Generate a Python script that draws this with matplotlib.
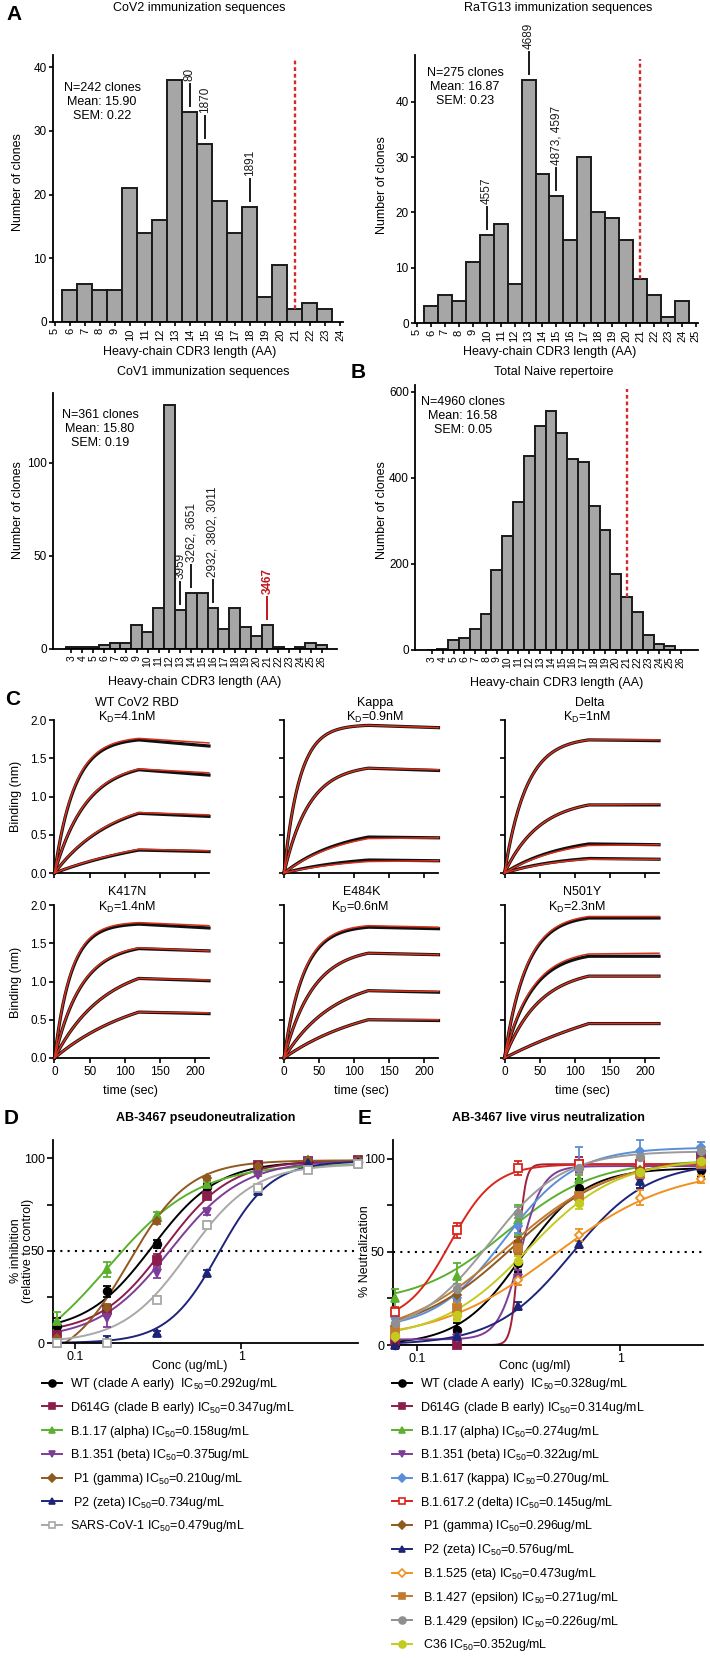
import numpy as np
import matplotlib
matplotlib.use('Agg')
import matplotlib.pyplot as plt
from matplotlib.lines import Line2D
from matplotlib.ticker import NullLocator, FixedLocator

plt.rcParams['font.family'] = ['Liberation Sans', 'DejaVu Sans']
plt.rcParams['font.size'] = 8
plt.rcParams['mathtext.fontset'] = 'custom'
plt.rcParams['mathtext.rm'] = 'Liberation Sans'
plt.rcParams['mathtext.it'] = 'Liberation Sans:italic'
plt.rcParams['mathtext.bf'] = 'Liberation Sans:bold'
plt.rcParams['axes.linewidth'] = 1.3
plt.rcParams['xtick.major.width'] = 1.2
plt.rcParams['ytick.major.width'] = 1.2
plt.rcParams['xtick.minor.width'] = 1.2
plt.rcParams['ytick.minor.width'] = 1.2

W, H = 710, 1659
FS = 9

# ---------------- histogram data (A, B) ----------------
cov2_len = list(range(6, 24))
cov2_cnt = [5, 6, 5, 5, 21, 14, 16, 38, 33, 28, 19, 14, 18, 4, 9, 2, 3, 2]
ratg_len = list(range(6, 25))
ratg_cnt = [3, 5, 4, 11, 16, 18, 7, 44, 27, 23, 15, 30, 20, 19, 15, 8, 5, 1, 4]
cov1_len = list(range(3, 27))
cov1_cnt = [1, 1, 1, 2, 3, 3, 13, 9, 22, 131, 21, 30, 30, 22, 11, 22, 12, 7, 13, 1, 0, 1, 3, 2]
naive_len = list(range(3, 26))
naive_cnt = [1, 2, 23, 29, 48, 83, 187, 266, 345, 452, 520, 555, 505, 445, 437, 335, 278,
             176, 124, 89, 36, 15, 9]

cov2_notes = [(14, '80'), (15, '1870'), (18, '1891')]
ratg_notes = [(10, '4557'), (13, '4689'), (15, '4873, 4597')]
cov1_notes = [(13, '3959'), (14, '3262, 3651'), (16, '2932, 3802, 3011')]
cov1_hit = (21, '3467')

# ---------------- BLI data (C) ----------------
c_titles = ['WT CoV2 RBD', 'Kappa', 'Delta', 'K417N', 'E484K', 'N501Y']
c_kd = ['4.1nM', '0.9nM', '1nM', '1.4nM', '0.6nM', '2.3nM']
c_kobs = [[0.035, 0.022, 0.012, 0.006], [0.045, 0.028, 0.012, 0.010],
          [0.032, 0.020, 0.012, 0.012], [0.042, 0.026, 0.014, 0.008],
          [0.036, 0.024, 0.014, 0.008], [0.032, 0.026, 0.020, 0.004]]
c_r120_black = [[1.74, 1.35, 0.78, 0.30], [1.93, 1.37, 0.47, 0.17], [1.74, 0.89, 0.38, 0.19],
                [1.75, 1.43, 1.04, 0.60], [1.71, 1.37, 0.88, 0.50], [1.83, 1.33, 1.07, 0.45]]
c_r220_black = [[1.66, 1.28, 0.74, 0.28], [1.90, 1.34, 0.46, 0.16], [1.73, 0.89, 0.37, 0.18],
                [1.70, 1.40, 1.01, 0.58], [1.69, 1.35, 0.86, 0.49], [1.83, 1.33, 1.07, 0.45]]
c_r120_red = [[1.76, 1.36, 0.79, 0.31], [1.93, 1.37, 0.45, 0.15], [1.74, 0.89, 0.36, 0.18],
              [1.77, 1.44, 1.04, 0.60], [1.73, 1.37, 0.88, 0.50], [1.85, 1.36, 1.07, 0.45]]
c_r220_red = [[1.70, 1.31, 0.76, 0.29], [1.90, 1.35, 0.46, 0.16], [1.74, 0.90, 0.37, 0.18],
              [1.73, 1.40, 1.02, 0.59], [1.71, 1.35, 0.87, 0.50], [1.85, 1.37, 1.07, 0.45]]

# ---------------- pseudoneutralization (D) ----------------
d_conc = [0.078125, 0.15625, 0.3125, 0.625, 1.25, 2.5, 5.0]
d_names = ['WT (clade A early) ', 'D614G (clade B early)', 'B.1.17 (alpha)', 'B.1.351 (beta)',
           ' P1 (gamma)', ' P2 (zeta)', 'SARS-CoV-1']
d_ic50 = [0.292, 0.347, 0.158, 0.375, 0.210, 0.734, 0.479]
d_vals = [[9.4, 28, 53.7, 84.6, 96.7, 98.2, 98.2],
          [4.5, 17.7, 45, 79.6, 96.5, 98.5, 99],
          [12, 40, 69.6, 86, 93.5, 96, 97],
          [0.4, 13.6, 38, 70.9, 91.3, 98.5, 98],
          [2.7, 19, 66, 89.5, 96, 99, 99],
          [0, 1.8, 5.4, 38, 82.3, 97.6, 98],
          [0, 0, 23.5, 64.2, 84, 94, 97]]
d_err = [[4, 3, 2, 1.5, 1, 0.5, 0.5], [2, 3, 3, 1.5, 1, 0.5, 0.5], [5, 4, 1.5, 1, 1, 0.5, 0.5],
         [2, 5, 3, 1.5, 1, 0.5, 0.5], [1.5, 2, 1.5, 1, 1, 0.5, 0.5], [0.5, 2, 1, 1.5, 1.5, 0.5, 0.5],
         [0.5, 0.5, 2, 2, 1.5, 1, 0.5]]
d_fit = [(6, 98.5, 2.2), (5, 99, 2.2), (-15, 97, 1.6), (2, 99, 2.0), (-12, 99, 2.4),
         (0, 98.5, 2.8), (0, 97, 2.2)]  # bottom, top, hill
d_colors = ['#000000', '#8b1c4b', '#5bb02e', '#7d3c98', '#8e5a1e', '#1e2478', '#a8a8a8']
d_markers = ['o', 's', '^', 'v', 'D', '^', 's']
d_open = [False, False, False, False, False, False, True]

# ---------------- live virus (E) ----------------
e_conc = [0.078125, 0.15625, 0.3125, 0.625, 1.25, 2.5]
e_names = ['WT (clade A early) ', 'D614G (clade B early)', 'B.1.17 (alpha)', 'B.1.351 (beta)',
           'B.1.617 (kappa)', 'B.1.617.2 (delta)', ' P1 (gamma)', ' P2 (zeta)', ' B.1.525 (eta)',
           ' B.1.427 (epsilon)', ' B.1.429 (epsilon)', ' C36']
e_ic50 = [0.328, 0.314, 0.274, 0.322, 0.270, 0.145, 0.296, 0.576, 0.473, 0.271, 0.226, 0.352]
e_vals = [[0, 8, 44, 84, 94, 94],
          [2, 0, 52, 97, 97, 101],
          [25, 37, 67, 89, 97, 99],
          [3, 4, 36, 96, 88, 99],
          [15, 25, 64, 97, 104, 106],
          [17.5, 61.6, 95, 97, 97, 97],
          [10, 27, 55, 80, 94, 99],
          [0, 5, 21, 54, 88, 96],
          [4, 17, 35, 59, 79, 89],
          [7, 20, 52, 80, 92, 97],
          [12, 30, 71, 95, 101, 104],
          [5, 16, 45, 76, 93, 99]]
e_err = [[1, 4, 5, 5, 5, 4], [1, 1, 4, 4, 3, 2], [5, 7, 8, 2, 4, 2], [1, 1, 4, 3, 4, 2],
         [3, 4, 4, 9, 6, 3], [3, 4, 4, 2, 2, 2], [2, 3, 3, 3, 3, 2], [1, 2, 2, 2, 4, 2],
         [2, 3, 3, 3, 4, 2], [2, 3, 3, 3, 3, 2], [2, 3, 3, 3, 3, 2], [2, 3, 3, 3, 3, 2]]
e_fit = [(0, 95, 2.8), (0, 97, 25), (22, 99, 2.0), (3, 96, 8), (8, 106, 2.5), (12, 97, 4),
         (5, 100, 1.8), (0, 98, 2.3), (2, 95, 1.5), (3, 100, 1.7), (5, 104, 2.4), (3, 100, 2.0)]
e_colors = ['#000000', '#8b1c4b', '#5bb02e', '#7d3c98', '#5a8fd8', '#d9261c', '#8e5a1e',
            '#1e2478', '#f0901e', '#c27a2e', '#8f8f8f', '#c3cc1e']
e_line_colors = ['#000000', '#a3203a', '#5bb02e', '#7d3c98', '#5a8fd8', '#d9261c', '#8e5a1e',
                 '#1e2478', '#f0901e', '#c27a2e', '#9a9a9a', '#c3cc1e']
e_markers = ['o', 's', '^', 'v', 'D', 's', 'D', '^', 'D', 's', 'o', 'o']
e_open = [False, False, False, False, False, True, False, False, True, False, False, False]


def rect(l, t, r, b):
    return [l / W, 1 - b / H, (r - l) / W, (b - t) / H]


def fx(x):
    return x / W


def fy(y):
    return 1 - y / H


fig = plt.figure(figsize=(W / 100, H / 100), dpi=100)


def hist_panel(box, lengths, counts, xlim, ylim, yticks, xticks, xfs, cutoff=None, notes=(), hit=None):
    l, t, r, b = box
    ax = fig.add_axes(rect(l, t, r, b))
    ax.bar(lengths, counts, width=1.0, color='#a6a6a6', edgecolor='#1a1a1a', linewidth=1.4, zorder=2)
    ax.set_xlim(*xlim)
    ax.set_ylim(*ylim)
    ax.set_xticks(xticks)
    ax.set_xticklabels([str(v) for v in xticks], rotation=90, fontsize=xfs)
    ax.set_yticks(yticks)
    ax.tick_params(axis='y', labelsize=8.5, pad=1.5, length=3)
    ax.tick_params(axis='x', pad=1.5, length=3)
    for s in ('top', 'right'):
        ax.spines[s].set_visible(False)
    upp = (ylim[1] - ylim[0]) / (b - t)
    if cutoff is not None:
        h = counts[lengths.index(cutoff)]
        ax.plot([cutoff, cutoff], [h, ylim[1] - 4 * upp], ls=(0, (1.6, 1.2)), color='#d42a2a',
                lw=1.7, zorder=3, clip_on=False)
    items = [(x, s, '#1a1a1a', 'normal') for x, s in notes]
    if hit is not None:
        items.append((hit[0], hit[1], '#c0161b', 'bold'))
    for x, label, color, weight in items:
        h = counts[lengths.index(x)]
        y0 = h + 6 * upp
        y1 = y0 + 22 * upp
        ax.plot([x, x], [y0, y1], color=color, lw=1.4, clip_on=False)
        ax.text(x, y1 + 3 * upp, label, rotation=90, ha='center', va='bottom', color=color,
                fontweight=weight, fontsize=8.5)
    return ax


hist_panel((53, 55, 343, 322), cov2_len, cov2_cnt, (4.87, 24.2), (0, 41.9), [0, 10, 20, 30, 40],
           list(range(5, 25)), 8, cutoff=21, notes=cov2_notes)
hist_panel((415, 55, 698, 323), ratg_len, ratg_cnt, (4.86, 25.15), (0, 48.5), [0, 10, 20, 30, 40],
           list(range(5, 26)), 8, cutoff=21, notes=ratg_notes)
hist_panel((53, 393, 337, 649), cov1_len, cov1_cnt, (1.3, 27.4), (0, 137.6), [0, 50, 100],
           list(range(3, 27)), 7.5, notes=cov1_notes, hit=cov1_hit)
hist_panel((415, 385, 698, 650), naive_len, naive_cnt, (1.43, 27.6), (0, 616), [0, 200, 400, 600],
           list(range(3, 27)), 7.5, cutoff=21)

fig.text(fx(199), fy(8), 'CoV2 immunization sequences', ha='center', va='center', fontsize=FS)
fig.text(fx(558), fy(8), 'RaTG13 immunization sequences', ha='center', va='center', fontsize=FS)
fig.text(fx(203), fy(372), 'CoV1 immunization sequences', ha='center', va='center', fontsize=FS)
fig.text(fx(554), fy(372), 'Total Naive repertoire', ha='center', va='center', fontsize=FS)
for x, y in [(190, 352), (550, 352), (195, 682), (557, 683)]:
    fig.text(fx(x), fy(y), 'Heavy-chain CDR3 length (AA)', ha='center', va='center', fontsize=FS)
for x, y in [(18, 182), (382, 185), (18, 510), (382, 510)]:
    fig.text(fx(x), fy(y), 'Number of clones', ha='center', va='center', rotation=90, fontsize=FS)
stats = [(102, 102, 'N=242 clones\nMean: 15.90\nSEM: 0.22'),
         (465, 87, 'N=275 clones\nMean: 16.87\nSEM: 0.23'),
         (100, 429, 'N=361 clones\nMean: 15.80\nSEM: 0.19'),
         (463, 416, 'N=4960 clones\nMean: 16.58\nSEM: 0.05')]
for x, y, s in stats:
    fig.text(fx(x), fy(y), s, ha='center', va='center', fontsize=FS, linespacing=1.25)

for x, y, s in [(14, 15, 'A'), (358, 372, 'B'), (13, 700, 'C'), (11, 1118, 'D'), (365, 1118, 'E')]:
    fig.text(fx(x), fy(y), s, ha='center', va='center', fontsize=15, fontweight='bold')

# ---------------- panel C ----------------
c_left = [54.5, 284, 504.5]
c_top = [720, 905]
title_pos = [(0.53, 0.47), (0.59, 0.59), (0.55, 0.53), (0.47, 0.47), (0.50, 0.49), (0.50, 0.47)]
t_a = np.linspace(0, 120, 241)
t_d = np.linspace(120, 220, 201)
for i in range(6):
    row, col = divmod(i, 3)
    l, t = c_left[col], c_top[row]
    ax = fig.add_axes(rect(l, t, l + 154.5, t + 153))
    for j in range(4):
        k = c_kobs[i][j]
        for r120, r220, colr, lw, z in [(c_r120_black[i][j], c_r220_black[i][j], '#111111', 2.3, 2),
                                        (c_r120_red[i][j], c_r220_red[i][j], '#d8321e', 1.1, 3)]:
            ya = r120 * (1 - np.exp(-k * t_a)) / (1 - np.exp(-k * 120))
            yd = r120 * (r220 / r120) ** ((t_d - 120) / 100)
            ax.plot(np.r_[t_a, t_d], np.r_[ya, yd], color=colr, lw=lw, zorder=z, clip_on=False)
    ax.set_xlim(0, 220)
    ax.set_ylim(0, 2.0)
    ax.set_xticks([0, 50, 100, 150, 200])
    ax.set_yticks([0, 0.5, 1.0, 1.5, 2.0])
    ax.set_yticklabels(['0.0', '0.5', '1.0', '1.5', '2.0'])
    ax.tick_params(labelsize=8.5, length=3.5, pad=2)
    if col > 0:
        ax.set_yticklabels([])
    if row == 0:
        ax.set_xticklabels([])
    for s in ('top', 'right'):
        ax.spines[s].set_visible(False)
    ty1 = 1 + (17 if row == 0 else 13) / 153
    ty2 = 1 + (3 if row == 0 else -2) / 153
    ax.text(title_pos[i][0], ty1, c_titles[i], transform=ax.transAxes, ha='center', va='center', fontsize=FS)
    ax.text(title_pos[i][1], ty2, 'K$_\\mathrm{D}$=' + c_kd[i], transform=ax.transAxes,
            ha='center', va='center', fontsize=FS)
fig.text(fx(16), fy(796), 'Binding (nm)', rotation=90, ha='center', va='center', fontsize=FS)
fig.text(fx(16), fy(982), 'Binding (nm)', rotation=90, ha='center', va='center', fontsize=FS)
for x in [130, 361, 582]:
    fig.text(fx(x), fy(1091), 'time (sec)', ha='center', va='center', fontsize=FS)


# ---------------- panels D, E ----------------
def logistic(x, ic50, bottom, top, hill):
    return bottom + (top - bottom) / (1 + (ic50 / x) ** hill)


def dose_panel(box, conc, names, ic50s, vals, errs, fits, colors, line_colors, markers, opens,
               xlim, title, ylabel, xlabel, ylab_x, xlab_x, leg_x):
    l, t, r, b = box
    ax = fig.add_axes(rect(l, t, r, b))
    ax.set_xscale('log')
    ax.set_xlim(*xlim)
    ax.set_ylim(0, 110)
    ax.axhline(50, color='black', ls=(0, (1, 2.5)), lw=1.5, zorder=1)
    xs = np.logspace(np.log10(xlim[0]), np.log10(xlim[1]), 400)
    handles, labels = [], []
    for i in range(len(names)):
        c = colors[i]
        fc = 'white' if opens[i] else c
        bot, top, hill = fits[i]
        ax.plot(xs, logistic(xs, ic50s[i], bot, top, hill), color=line_colors[i], lw=1.4, zorder=2)
        ax.errorbar(conc, vals[i], yerr=errs[i], fmt='none', ecolor=c, elinewidth=1.3,
                    capsize=3, capthick=1.3, zorder=3, clip_on=False)
        ax.plot(conc, vals[i], ls='none', marker=markers[i], ms=5.5 if markers[i] != 'D' else 4.5,
                mfc=fc, mec=c, mew=1.3, zorder=4, clip_on=False)
        handles.append(Line2D([], [], color=c, lw=1.4, marker=markers[i],
                              ms=5 if markers[i] != 'D' else 4, mfc=fc, mec=c, mew=1.2))
        labels.append(names[i] + ' IC$_{50}$=%.3fug/mL' % ic50s[i])
    ax.set_yticks([0, 50, 100])
    ax.yaxis.set_minor_locator(FixedLocator([25, 75]))
    ax.set_xticks([0.1, 1])
    ax.set_xticklabels(['0.1', '1'])
    ax.xaxis.set_minor_locator(NullLocator())
    ax.tick_params(which='both', labelsize=FS, length=4, pad=2)
    for s in ('top', 'right'):
        ax.spines[s].set_visible(False)
    ax.set_title(title, fontweight='bold', fontsize=FS, pad=14)
    fig.text(fx(ylab_x), fy(1251), ylabel, rotation=90, ha='center', va='center', fontsize=FS,
             linespacing=1.0)
    fig.text(fx(xlab_x), fy(1366), xlabel, ha='center', va='center', fontsize=FS)
    fig.legend(handles, labels, loc='upper left', bbox_to_anchor=(fx(leg_x), fy(1376)),
               frameon=False, fontsize=FS, handlelength=1.6, handletextpad=0.6,
               labelspacing=0.62, borderaxespad=0, borderpad=0)
    return ax


dose_panel((53, 1140, 358, 1343), d_conc, d_names, d_ic50, d_vals, d_err, d_fit, d_colors, d_colors,
           d_markers, d_open, (0.074, 5.0), 'AB-3467 pseudoneutralization',
           '% inhibition\n(relative to control)', 'Conc (ug/mL)', 22, 190, 42)
dose_panel((393, 1140, 703, 1345), e_conc, e_names, e_ic50, e_vals, e_err, e_fit, e_colors, e_line_colors,
           e_markers, e_open, (0.076, 2.55), 'AB-3467 live virus neutralization',
           '% Neutralization', 'Conc (ug/ml)', 365, 535, 392)

fig.savefig('out.png', dpi=100)
